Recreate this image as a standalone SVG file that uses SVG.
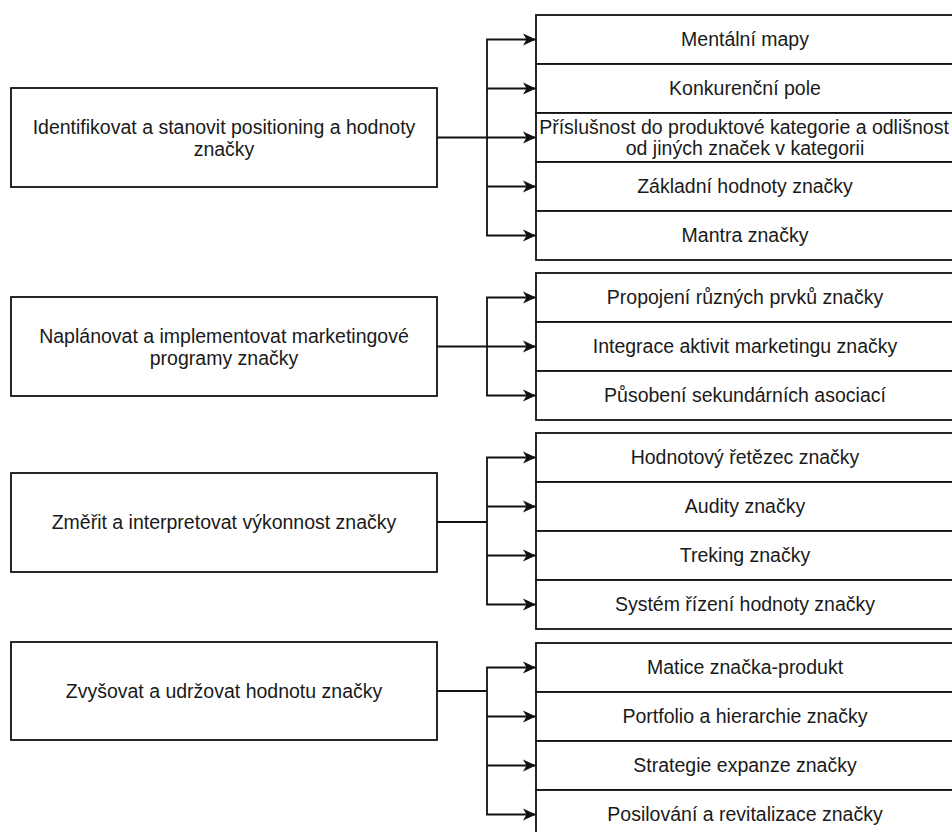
<svg xmlns="http://www.w3.org/2000/svg" width="952" height="832" viewBox="0 0 952 832">
<style>
.box{fill:#fff;stroke:#111;stroke-width:1.8}
.t{font-family:"Liberation Sans",Arial,sans-serif;font-size:19.5px;fill:#1a1a1a;text-anchor:middle}
.c{fill:none;stroke:#111;stroke-width:1.8}
</style>
<defs>
<marker id="arr" markerUnits="userSpaceOnUse" markerWidth="14" markerHeight="13" refX="13" refY="6.5" orient="auto">
<path d="M0,0.5 L13,6.5 L0,12.5 L3.5,6.5 Z" fill="#111"/>
</marker>
</defs>

<g id="left1"><rect class="box" x="11" y="88" width="426" height="99"/><text class="t" x="224" y="134">Identifikovat a stanovit positioning a hodnoty</text><text class="t" x="224" y="156">značky</text></g>
<g id="left2"><rect class="box" x="11" y="297" width="426" height="99"/><text class="t" x="224" y="343">Naplánovat a implementovat marketingové</text><text class="t" x="224" y="365">programy značky</text></g>
<g id="left3"><rect class="box" x="11" y="473" width="426" height="99"/><text class="t" x="224" y="529">Změřit a interpretovat výkonnost značky</text></g>
<g id="left4"><rect class="box" x="11" y="642" width="426" height="98"/><text class="t" x="224" y="698">Zvyšovat a udržovat hodnotu značky</text></g>

<g id="r1a"><rect class="box" x="536" y="15" width="430" height="49"/><text class="t" x="745" y="46">Mentální mapy</text></g>
<g id="r1b"><rect class="box" x="536" y="64" width="430" height="49"/><text class="t" x="745" y="95">Konkurenční pole</text></g>
<g id="r1c"><rect class="box" x="536" y="113" width="430" height="49"/><text class="t" x="744" y="134">Příslušnost do produktové kategorie a odlišnost</text><text class="t" x="745" y="155">od jiných značek v kategorii</text></g>
<g id="r1d"><rect class="box" x="536" y="162" width="430" height="49"/><text class="t" x="745" y="193">Základní hodnoty značky</text></g>
<g id="r1e"><rect class="box" x="536" y="211" width="430" height="49"/><text class="t" x="745" y="242">Mantra značky</text></g>

<g id="r2a"><rect class="box" x="536" y="273" width="430" height="49"/><text class="t" x="745" y="304">Propojení různých prvků značky</text></g>
<g id="r2b"><rect class="box" x="536" y="322" width="430" height="49"/><text class="t" x="745" y="353">Integrace aktivit marketingu značky</text></g>
<g id="r2c"><rect class="box" x="536" y="371" width="430" height="49"/><text class="t" x="745" y="402">Působení sekundárních asociací</text></g>

<g id="r3a"><rect class="box" x="536" y="433" width="430" height="49"/><text class="t" x="745" y="464">Hodnotový řetězec značky</text></g>
<g id="r3b"><rect class="box" x="536" y="482" width="430" height="49"/><text class="t" x="745" y="513">Audity značky</text></g>
<g id="r3c"><rect class="box" x="536" y="531" width="430" height="49"/><text class="t" x="745" y="562">Treking značky</text></g>
<g id="r3d"><rect class="box" x="536" y="580" width="430" height="49"/><text class="t" x="745" y="611">Systém řízení hodnoty značky</text></g>

<g id="r4a"><rect class="box" x="536" y="643" width="430" height="49"/><text class="t" x="745" y="674">Matice značka-produkt</text></g>
<g id="r4b"><rect class="box" x="536" y="692" width="430" height="49"/><text class="t" x="745" y="723">Portfolio a hierarchie značky</text></g>
<g id="r4c"><rect class="box" x="536" y="741" width="430" height="49"/><text class="t" x="745" y="772">Strategie expanze značky</text></g>
<g id="r4d"><rect class="box" x="536" y="790" width="430" height="49"/><text class="t" x="745" y="821">Posilování a revitalizace značky</text></g>

<g id="connectors">
<path class="c" d="M437,137.5 H487"/>
<path class="c" d="M487,137.5 V39.5 H536" marker-end="url(#arr)"/>
<path class="c" d="M487,88.5 H536" marker-end="url(#arr)"/>
<path class="c" d="M487,137.5 H536" marker-end="url(#arr)"/>
<path class="c" d="M487,186.5 H536" marker-end="url(#arr)"/>
<path class="c" d="M487,137.5 V235.5 H536" marker-end="url(#arr)"/>

<path class="c" d="M437,346.5 H487"/>
<path class="c" d="M487,346.5 V297.5 H536" marker-end="url(#arr)"/>
<path class="c" d="M487,346.5 H536" marker-end="url(#arr)"/>
<path class="c" d="M487,346.5 V395.5 H536" marker-end="url(#arr)"/>

<path class="c" d="M437,522 H487"/>
<path class="c" d="M487,522 V457.5 H536" marker-end="url(#arr)"/>
<path class="c" d="M487,506.5 H536" marker-end="url(#arr)"/>
<path class="c" d="M487,555.5 H536" marker-end="url(#arr)"/>
<path class="c" d="M487,522 V604.5 H536" marker-end="url(#arr)"/>

<path class="c" d="M437,691 H487"/>
<path class="c" d="M487,691 V667.5 H536" marker-end="url(#arr)"/>
<path class="c" d="M487,716.5 H536" marker-end="url(#arr)"/>
<path class="c" d="M487,765.5 H536" marker-end="url(#arr)"/>
<path class="c" d="M487,691 V814.5 H536" marker-end="url(#arr)"/>
</g>
</svg>
